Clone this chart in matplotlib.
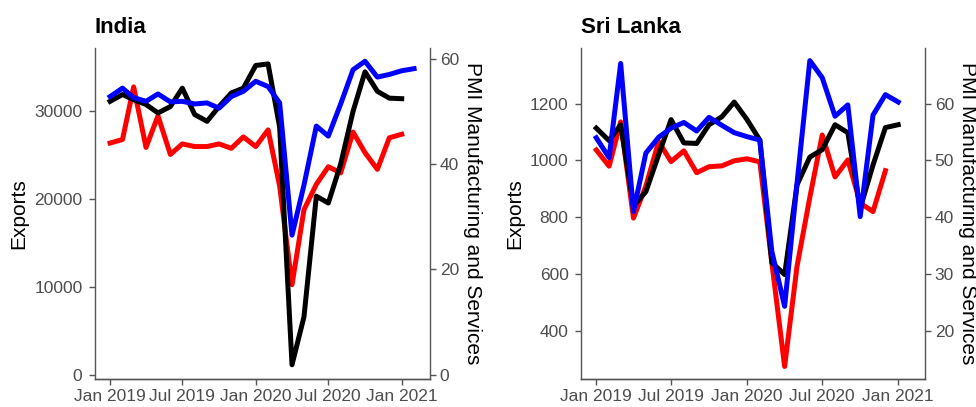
import matplotlib
matplotlib.use("Agg")
import matplotlib.pyplot as plt
import matplotlib.dates as mdates
import pandas as pd

plt.rcParams['font.family'] = ['Liberation Sans', 'DejaVu Sans']

# Monthly points, Jan 2019 onwards
months = pd.date_range('2019-01-01', periods=26, freq='MS')

# India: exports (left axis), PMI manufacturing / services (right axis)
india_exports = [26400, 26800, 32800, 25900, 29500, 25100, 26300, 26000, 26000, 26300,
                 25800, 27100, 26000, 27900, 21500, 10250, 18800, 21700, 23700, 23000,
                 27650, 25300, 23400, 27000, 27400]
india_services = [51.9, 53.2, 52.2, 51.3, 49.7, 50.9, 54.4, 49.4, 48.1, 50.9,
                  53.5, 54.4, 58.7, 59.0, 47.0, 1.9, 11.0, 33.9, 32.6, 40.0,
                  50.0, 57.5, 53.8, 52.5, 52.4]
india_mfg = [52.8, 54.4, 52.6, 51.9, 53.3, 51.8, 51.9, 51.4, 51.6, 50.6,
             52.8, 53.8, 55.7, 54.7, 51.6, 26.5, 36.0, 47.2, 45.3, 51.4,
             57.9, 59.5, 56.5, 57.0, 57.7, 58.1]

# Sri Lanka
sl_exports = [1037, 980, 1136, 797, 910, 1067, 996, 1034, 957, 978,
              981, 999, 1006, 995, 640, 274, 627, 870, 1090, 942,
              1002, 850, 820, 964]
sl_services = [55.7, 53.5, 56.3, 42.0, 44.5, 51.0, 57.2, 53.1, 53.0, 56.3,
               57.7, 60.3, 57.2, 53.6, 32.0, 29.9, 45.7, 50.6, 51.9, 56.3,
               54.9, 41.6, 49.2, 55.8, 56.3]
sl_mfg = [54.0, 50.5, 67.1, 41.0, 51.3, 54.1, 55.7, 56.7, 55.2, 57.6,
          56.2, 54.9, 54.2, 53.6, 34.0, 24.3, 46.0, 67.6, 64.6, 57.8,
          59.8, 40.1, 58.0, 61.6, 60.3]

left_ticks = {'India': [0, 10000, 20000, 30000], 'Sri Lanka': [400, 600, 800, 1000, 1200]}
right_ticks = {'India': [0, 20, 40, 60], 'Sri Lanka': [20, 30, 40, 50, 60]}
xtick_dates = pd.to_datetime(['2019-01-01', '2019-07-01', '2020-01-01', '2020-07-01', '2021-01-01'])

GREY = '#4d4d4d'
LW = 3.6


def style_axis(ax, side):
    for s in ['top', 'right', 'left', 'bottom']:
        ax.spines[s].set_visible(False)
    ax.spines['bottom'].set_visible(True)
    ax.spines[side].set_visible(True)
    for s in ['bottom', side]:
        ax.spines[s].set_color('#555555')
        ax.spines[s].set_linewidth(1.0)
    ax.tick_params(axis='both', colors='#555555', labelcolor=GREY, labelsize=12.5,
                   length=4, width=1.0, pad=3)


def draw_panel(fig, rect, name, exports, services, mfg, ylim_left, ylim_right, xlim):
    ax = fig.add_axes(rect)
    ax2 = ax.twinx()

    ax.plot(months[:len(exports)], exports, color='red', lw=LW, solid_joinstyle='round')
    ax2.plot(months[:len(services)], services, color='black', lw=LW, solid_joinstyle='round')
    ax2.plot(months[:len(mfg)], mfg, color='blue', lw=LW, solid_joinstyle='round')

    ax.set_ylim(*ylim_left)
    ax2.set_ylim(*ylim_right)
    ax.set_xlim(*xlim)
    ax.set_yticks(left_ticks[name])
    ax2.set_yticks(right_ticks[name])
    ax.set_xticks(xtick_dates)
    ax.xaxis.set_major_formatter(mdates.DateFormatter('%b %Y'))

    style_axis(ax, 'left')
    style_axis(ax2, 'right')
    ax.tick_params(axis='y', pad=5)

    ax.set_ylabel('Exports', fontsize=15, labelpad=4)
    ax2.set_ylabel('PMI Manufacturing and Services', fontsize=15, rotation=270,
                   va='bottom', labelpad=3)
    ax.set_title(name, loc='left', fontweight='bold', fontsize=16, pad=11)
    return ax, ax2


fig = plt.figure(figsize=(9.76, 4.07), dpi=100)

draw_panel(fig, [0.0973, 0.0688, 0.3433, 0.813], 'India',
           india_exports, india_services, india_mfg,
           (-494, 37220), (-0.8, 62.0),
           (pd.Timestamp('2018-11-24'), pd.Timestamp('2021-03-13')))

draw_panel(fig, [0.5953, 0.0688, 0.3525, 0.813], 'Sri Lanka',
           sl_exports, sl_services, sl_mfg,
           (230, 1396), (11.5, 69.8),
           (pd.Timestamp('2018-11-25'), pd.Timestamp('2021-03-07')))

fig.savefig('out.png', dpi=100, facecolor='white')
